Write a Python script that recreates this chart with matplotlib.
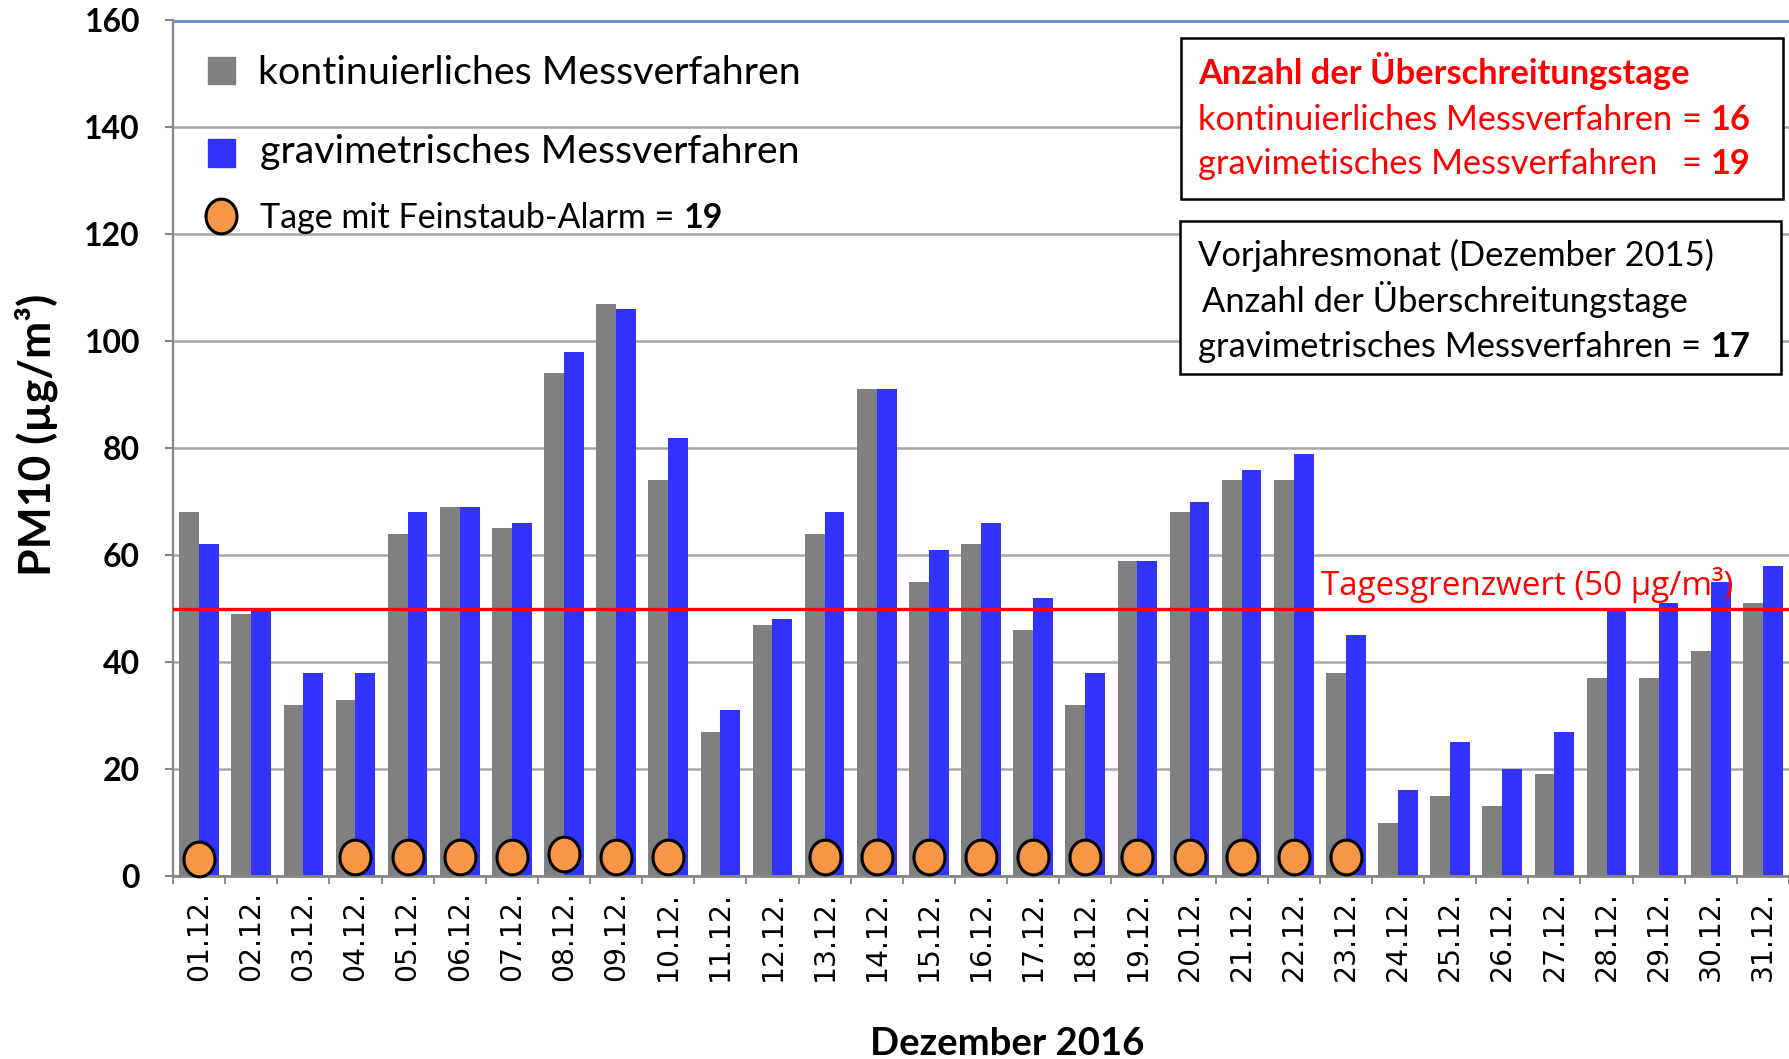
import matplotlib
matplotlib.use("Agg")
import matplotlib.pyplot as plt
import numpy as np
from matplotlib.path import Path
from matplotlib.patches import Rectangle
from matplotlib.lines import Line2D

# ---------------- data ----------------
days = [f"{d:02d}.12." for d in range(1, 32)]
kontinuierlich = [68, 49, 32, 33, 64, 69, 65, 94, 107, 74, 27, 47, 64, 91, 55, 62,
                  46, 32, 59, 68, 74, 74, 38, 10, 15, 13, 19, 37, 37, 42, 51]
gravimetrisch = [62, 50, 38, 38, 68, 69, 66, 98, 106, 82, 31, 48, 68, 91, 61, 66,
                 52, 38, 59, 70, 76, 79, 45, 16, 25, 20, 27, 50, 51, 55, 58]
alarm_days = ["01.12.", "04.12.", "05.12.", "06.12.", "07.12.", "08.12.", "09.12.",
              "10.12.", "13.12.", "14.12.", "15.12.", "16.12.", "17.12.", "18.12.",
              "19.12.", "20.12.", "21.12.", "22.12.", "23.12."]
alarm_y = [3.2, 3.6, 3.6, 3.6, 3.6, 4.2, 3.6, 3.6, 3.6, 3.6, 3.6, 3.6, 3.6, 3.6,
           3.6, 3.6, 3.6, 3.6, 3.6]
grenzwert = 50
yticks = [0, 20, 40, 60, 80, 100, 120, 140, 160]

W, H = 1789, 1059
GRAY = "#808080"
BLUE = "#3333ff"
ORANGE = "#f79646"
RED = "#ff0000"
CAL = "Lato"

fig = plt.figure(figsize=(W / 100, H / 100), dpi=100)
renderer = fig.canvas.get_renderer()

ax_left, ax_right, ax_top, ax_bot = 173, 1789, 20.5, 876
ax = fig.add_axes([ax_left / W, 1 - ax_bot / H, (ax_right - ax_left) / W, (ax_bot - ax_top) / H])

x = np.arange(len(days))
bw = 0.38
ax.bar(x - bw / 2, kontinuierlich, bw, color=GRAY, zorder=2)
ax.bar(x + bw / 2, gravimetrisch, bw, color=BLUE, zorder=2)

t = np.linspace(0, 2 * np.pi, 80)
ellipse = Path(np.column_stack([np.cos(t), 1.12 * np.sin(t)]), closed=True)
ax_idx = [days.index(d) for d in alarm_days]
ax.plot(ax_idx, alarm_y, linestyle="none", marker=ellipse, markersize=25,
        markerfacecolor=ORANGE, markeredgecolor="black", markeredgewidth=2.2, zorder=4,
        clip_on=False)

ax.axhline(grenzwert, color=RED, lw=2.4, zorder=3)

ax.set_xlim(-0.5, len(days) - 0.5)
ax.set_ylim(0, 160)
ax.set_yticks(yticks)
ax.set_axisbelow(True)
ax.yaxis.grid(True, color="#a6a6a6", lw=1.8)

ax.spines["right"].set_visible(False)
ax.spines["top"].set_color("#6b93c9")
ax.spines["top"].set_linewidth(2.2)
ax.spines["left"].set_color("#868686")
ax.spines["left"].set_linewidth(1.6)
ax.spines["bottom"].set_color("#868686")
ax.spines["bottom"].set_linewidth(2.0)

ax.set_xticks(np.arange(-0.5, len(days), 1))
ax.set_xticklabels([])
ax.set_xticks(x, minor=True)
ax.set_xticklabels(days, minor=True, rotation=90, fontsize=20.3, family="DejaVu Sans")
ax.tick_params(axis="x", which="major", length=5.5, width=1.3, color="#868686")
ax.tick_params(axis="x", which="minor", length=0, pad=10.8)
ax.tick_params(axis="y", length=5.8, width=1.5, color="#868686", pad=18)
for lab in ax.get_yticklabels():
    lab.set_fontfamily(CAL)
    lab.set_fontweight("bold")
    lab.set_fontsize(23)


def fx(px):
    return px / W


def fy(py):
    return 1 - py / H


def fit(text, target, family, weight="normal"):
    tt = fig.text(0, 0, text, fontsize=100, family=family, fontweight=weight)
    w = tt.get_window_extent(renderer).width
    tt.remove()
    return 100 * target / w


def rich(xpx, ypx, parts, size, color, family=CAL):
    """parts: list of (text, weight, x_override or None). returns list of start x."""
    cx = xpx
    starts = []
    for s, w, xo in parts:
        if xo is not None:
            cx = xo
        starts.append(cx)
        tt = fig.text(fx(cx), fy(ypx), s, fontsize=size, fontweight=w, color=color,
                      family=family, va="baseline", ha="left", zorder=5)
        bb = tt.get_window_extent(renderer)
        cx = bb.x1 + 0.27 * size * 100 / 72
    return starts


# ---------------- axis labels ----------------
fig.text(fx(36.5), fy(435), "PM10 (µg/m³)", rotation=90, ha="center", va="center",
         fontsize=fit("PM10 (µg/m³)", 282, CAL, "bold"), fontweight="bold", family=CAL)
fig.text(fx(1007.5), fy(1055), "Dezember 2016", ha="center", va="baseline",
         fontsize=fit("Dezember 2016", 274, CAL, "bold"), fontweight="bold", family=CAL)

# ---------------- legend ----------------
fig.add_artist(Rectangle((fx(207.6), fy(84.4)), 27.4 / W, 27.4 / H, transform=fig.transFigure,
                         color=GRAY, zorder=5))
fig.add_artist(Rectangle((fx(207.6), fy(166.6)), 27.4 / W, 28 / H, transform=fig.transFigure,
                         color=BLUE, zorder=5))
fig.add_artist(Line2D([fx(220.5)], [fy(215.6)], transform=fig.transFigure, marker=ellipse,
                      markersize=25, markerfacecolor=ORANGE, markeredgecolor="black",
                      markeredgewidth=2.2, linestyle="none", zorder=5))
s_leg = fit("kontinuierliches Messverfahren", 544, CAL)
fig.text(fx(258), fy(84.5), "kontinuierliches Messverfahren", fontsize=s_leg, family=CAL,
         va="baseline", zorder=5)
fig.text(fx(260), fy(163.5), "gravimetrisches Messverfahren", fontsize=s_leg, family=CAL,
         va="baseline", zorder=5)
s_leg3 = fit("Tage mit Feinstaub-Alarm = 19", 462, CAL)
rich(260, 228.5, [("Tage mit Feinstaub-Alarm =", "normal", None), ("19", "bold", None)],
     s_leg3, "black")

# ---------------- boxes ----------------
fig.add_artist(Rectangle((fx(1181), fy(199)), (1783 - 1181) / W, (199 - 38) / H,
                         transform=fig.transFigure, facecolor="white", edgecolor="black",
                         lw=1.8, zorder=4))
fig.add_artist(Rectangle((fx(1180), fy(374)), (1781 - 1180) / W, (374 - 221) / H,
                         transform=fig.transFigure, facecolor="white", edgecolor="black",
                         lw=1.8, zorder=4))

s_box = fit("kontinuierliches Messverfahren = 16", 552, CAL)
fig.text(fx(1198), fy(83.5), "Anzahl der Überschreitungstage", fontsize=s_box, family=CAL,
         fontweight="bold", color=RED, va="baseline", zorder=5)
st = rich(1198, 129.5, [("kontinuierliches Messverfahren", "normal", None), ("=", "normal", None),
                        ("16", "bold", None)], s_box, RED)
rich(1198, 174.5, [("gravimetisches Messverfahren", "normal", None), ("=", "normal", st[1]),
                   ("19", "bold", st[2])], s_box, RED)

s_box2 = fit("Vorjahresmonat (Dezember 2015)", 516, CAL)
fig.text(fx(1198), fy(266.5), "Vorjahresmonat (Dezember 2015)", fontsize=s_box2, family=CAL,
         va="baseline", zorder=5)
fig.text(fx(1202), fy(312.5), "Anzahl der Überschreitungstage", fontsize=s_box2, family=CAL,
         va="baseline", zorder=5)
rich(1198, 357.5, [("gravimetrisches Messverfahren =", "normal", None), ("17", "bold", None)],
     s_box2, "black")

# ---------------- limit label ----------------
fig.text(fx(1321), fy(595), "Tagesgrenzwert (50 µg/m³)", color=RED, family="Open Sans",
         fontsize=fit("Tagesgrenzwert (50 µg/m³)", 413, "Open Sans"), va="baseline", zorder=5)

fig.savefig("out.png", dpi=100)
